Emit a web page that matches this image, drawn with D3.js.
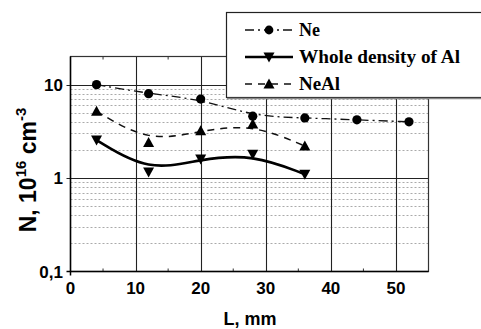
<!DOCTYPE html>
<html><head><meta charset="utf-8">
<script src="https://cdn.jsdelivr.net/npm/d3@7"></script>
<style>body{margin:0;background:#fff;}svg{display:block;}</style>
</head><body>
<svg id="c" width="481" height="329"></svg>
<script>
const neX = [4, 12, 20, 28, 36, 44, 52];
const neY = [10, 8, 7, 4.6, 4.4, 4.2, 4.0];
const alX = [4, 12, 20, 28, 36];
const alY = [2.55, 1.16, 1.6, 1.8, 1.1];
const neAlX = [4, 12, 20, 28, 36];
const neAlY = [5.2, 2.4, 3.2, 3.8, 2.2];
const xTicks = [0, 10, 20, 30, 40, 50];
const yTicks = [0.1, 1, 10];
const yTickLabels = ["0,1", "1", "10"];
const legendLabels = ["Ne", "Whole density of Al", "NeAl"];
const legendWidths = [21, 161, 41];

const svg = d3.select("#c");
const L = 70.5, R = 428.5, T = 56.5, B = 271.5;
const x = d3.scaleLinear().domain([0, 55]).range([L, R]);
const y = d3.scaleLog().domain([0.1, 20]).range([B, T]);

// minor grid (dotted)
const minors = [];
[0.1, 1, 10].forEach(d => { for (let k = 2; k <= 9; k++) { const v = d * k; if (v < 20) minors.push(v); } });
svg.append("g").selectAll("line").data(minors).join("line")
  .attr("x1", L).attr("x2", R).attr("y1", d => Math.round(y(d)) + 0.5).attr("y2", d => Math.round(y(d)) + 0.5)
  .attr("stroke", "#aaa").attr("stroke-width", 1).attr("stroke-dasharray", "2,2");
// major horizontal
svg.append("g").selectAll("line").data([1, 10]).join("line")
  .attr("x1", L - 4).attr("x2", R).attr("y1", d => Math.round(y(d)) + 0.5).attr("y2", d => Math.round(y(d)) + 0.5)
  .attr("stroke", "#222").attr("stroke-width", 1.2);
// vertical grid
svg.append("g").selectAll("line").data(xTicks.slice(1)).join("line")
  .attr("x1", d => Math.round(x(d)) + 0.5).attr("x2", d => Math.round(x(d)) + 0.5).attr("y1", T).attr("y2", B)
  .attr("stroke", "#222").attr("stroke-width", 1.1);
// minor x ticks
const xm = [5, 15, 25, 35, 45];
svg.append("g").selectAll("line").data(xm).join("line")
  .attr("x1", d => x(d)).attr("x2", d => x(d)).attr("y1", B - 3).attr("y2", B).attr("stroke", "#333");
svg.append("g").selectAll("line").data(xm).join("line")
  .attr("x1", d => x(d)).attr("x2", d => x(d)).attr("y1", T).attr("y2", T + 3).attr("stroke", "#333");
// frame
svg.append("rect").attr("x", L).attr("y", T).attr("width", R - L).attr("height", B - T)
  .attr("fill", "none").attr("stroke", "#333").attr("stroke-width", 1.2);
svg.append("line").attr("x1", L).attr("x2", L).attr("y1", T).attr("y2", B + 4).attr("stroke", "#000").attr("stroke-width", 1.5);
svg.append("line").attr("x1", L - 4).attr("x2", R).attr("y1", B).attr("y2", B).attr("stroke", "#000").attr("stroke-width", 1.5);

// tick labels
svg.append("g").selectAll("text").data(xTicks).join("text")
  .attr("x", d => x(d)).attr("y", 294).attr("text-anchor", "middle")
  .attr("font-family", "Liberation Sans, Arial, sans-serif").attr("font-weight", "bold").attr("font-size", 17)
  .text(d => d);
svg.append("g").selectAll("text").data(yTicks).join("text")
  .attr("x", 63).attr("y", d => y(d) + 6).attr("text-anchor", "end")
  .attr("font-family", "Liberation Sans, Arial, sans-serif").attr("font-weight", "bold").attr("font-size", 17)
  .text((d, i) => yTickLabels[i]);

// axis titles
svg.append("text").attr("x", 250).attr("y", 325).attr("text-anchor", "middle")
  .attr("font-family", "Liberation Sans, Arial, sans-serif").attr("font-weight", "bold").attr("font-size", 18)
  .text("L, mm");
const yt = svg.append("text").attr("transform", "translate(36,170) rotate(-90)").attr("text-anchor", "middle")
  .attr("font-family", "Liberation Sans, Arial, sans-serif").attr("font-weight", "bold").attr("font-size", 23);
yt.append("tspan").text("N, 10");
yt.append("tspan").attr("dy", -10).attr("font-size", 15).text("16");
yt.append("tspan").attr("dy", 10).text(" cm");
yt.append("tspan").attr("dy", -10).attr("font-size", 15).text("-3");

// lines
const line = (xs, ys) => d3.line().curve(d3.curveBasis).x((d, i) => x(xs[i])).y(d => y(d))(ys);
svg.append("path").attr("d", line(neX, neY)).attr("fill", "none").attr("stroke", "#111")
  .attr("stroke-width", 1.3).attr("stroke-dasharray", "9,4,2,4");
svg.append("path").attr("d", line(neAlX, neAlY)).attr("fill", "none").attr("stroke", "#111")
  .attr("stroke-width", 1.5).attr("stroke-dasharray", "7,6");
svg.append("path").attr("d", line(alX, alY)).attr("fill", "none").attr("stroke", "#000")
  .attr("stroke-width", 2.6);

// markers
const triUp = "M0,-5.5L5.5,4.5L-5.5,4.5Z";
const triDown = "M0,5.5L5.5,-4.5L-5.5,-4.5Z";
svg.append("g").selectAll("circle").data(neY).join("circle")
  .attr("cx", (d, i) => x(neX[i])).attr("cy", d => y(d)).attr("r", 4.6).attr("fill", "#000");
svg.append("g").selectAll("path").data(neAlY).join("path")
  .attr("transform", (d, i) => `translate(${x(neAlX[i])},${y(d)})`).attr("d", triUp).attr("fill", "#000");
svg.append("g").selectAll("path").data(alY).join("path")
  .attr("transform", (d, i) => `translate(${x(alX[i])},${y(d)})`).attr("d", triDown).attr("fill", "#000");

// legend
const lg = svg.append("g");
lg.append("rect").attr("x", 226.5).attr("y", 12.5).attr("width", 300).attr("height", 85)
  .attr("fill", "#fff").attr("stroke", "#222").attr("stroke-width", 1.2);
lg.append("line").attr("x1", 227).attr("x2", 481).attr("y1", 98.5).attr("y2", 98.5).attr("stroke", "#888").attr("stroke-width", 1.5);
const rows = [30, 57, 84];
const lx1 = 245, lx2 = 293, lm = 269;
lg.append("line").attr("x1", lx1).attr("x2", lx2).attr("y1", rows[0]).attr("y2", rows[0])
  .attr("stroke", "#111").attr("stroke-width", 1.3).attr("stroke-dasharray", "9,4,2,4");
lg.append("circle").attr("cx", lm).attr("cy", rows[0]).attr("r", 4.4).attr("fill", "#000");
lg.append("line").attr("x1", lx1).attr("x2", lx2).attr("y1", rows[1]).attr("y2", rows[1])
  .attr("stroke", "#000").attr("stroke-width", 2.6);
lg.append("path").attr("transform", `translate(${lm},${rows[1]})`).attr("d", triDown).attr("fill", "#000");
lg.append("line").attr("x1", lx1).attr("x2", lx2).attr("y1", rows[2]).attr("y2", rows[2])
  .attr("stroke", "#111").attr("stroke-width", 1.5).attr("stroke-dasharray", "7,6");
lg.append("path").attr("transform", `translate(${lm},${rows[2]})`).attr("d", triUp).attr("fill", "#000");
lg.selectAll("text.lt").data(legendLabels).join("text").attr("class", "lt")
  .attr("x", 299).attr("y", (d, i) => rows[i] + 6)
  .attr("font-family", "Liberation Serif, Times New Roman, serif").attr("font-weight", "bold").attr("font-size", 18)
  .attr("textLength", (d, i) => legendWidths[i]).attr("lengthAdjust", "spacingAndGlyphs")
  .text(d => d);
</script>
</body></html>
